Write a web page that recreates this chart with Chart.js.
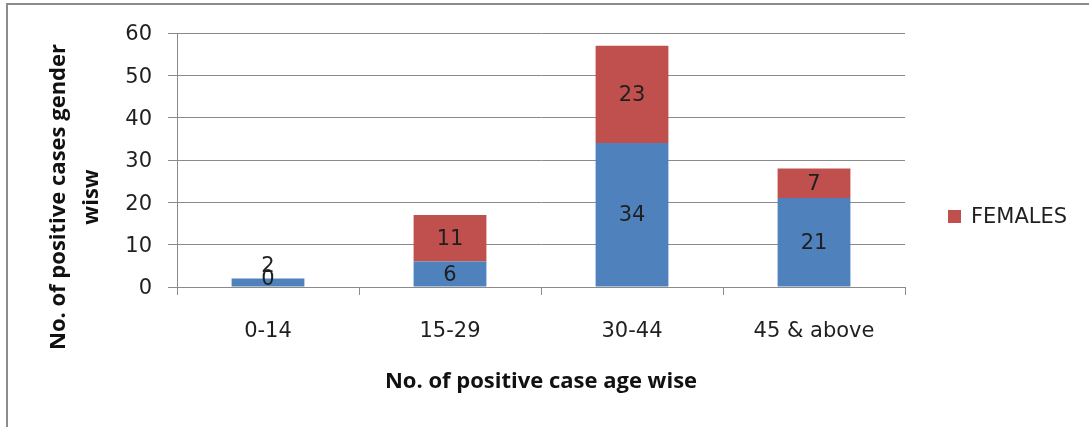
<!DOCTYPE html>
<html>
<head>
<meta charset="utf-8">
<script src="https://cdn.jsdelivr.net/npm/chart.js@4"></script>
<style>
  html, body { margin: 0; padding: 0; background: #ffffff; }
  #wrap { width: 1089px; height: 427px; }
</style>
</head>
<body>
<div id="wrap"><canvas id="chart" width="1089" height="427"></canvas></div>
<script>
// Age groups on the x axis
const categories = ['0-14', '15-29', '30-44', '45 & above'];
// Positive cases per age group, stacked by gender
const males = [2, 6, 34, 21];
const females = [0, 11, 23, 7];
// Value axis ticks
const yTicks = [0, 10, 20, 30, 40, 50, 60];
// Axis titles
const xTitle = 'No. of positive case age wise';
const yTitle = ['No. of positive cases gender', 'wisw'];

const BLUE = '#4f81bd';
const RED = '#c0504d';
const GRID = '#8a8a8a';
const TEXT = '#1f1f1f';
const TICK_FONT = { family: '"DejaVu Sans", sans-serif', size: 21 };
const TITLE_FONT = { family: '"Open Sans", sans-serif', size: 22, weight: 'bold' };

// White page with the grey frame around the chart
const framePlugin = {
  id: 'frame',
  beforeDraw(chart) {
    const ctx = chart.ctx;
    ctx.save();
    ctx.fillStyle = '#ffffff';
    ctx.fillRect(0, 0, chart.width, chart.height);
    ctx.strokeStyle = '#8c8c8c';
    ctx.lineWidth = 2;
    ctx.strokeRect(7, 4, chart.width + 20, chart.height + 20);
    ctx.restore();
  }
};

// Numbers written on each stacked segment
const valueLabels = {
  id: 'valueLabels',
  afterDatasetsDraw(chart) {
    const ctx = chart.ctx;
    ctx.save();
    ctx.font = `${TICK_FONT.size}px ${TICK_FONT.family}`;
    ctx.fillStyle = TEXT;
    ctx.textAlign = 'center';
    ctx.textBaseline = 'middle';
    const metas = chart.data.datasets.map((d, i) => chart.getDatasetMeta(i));
    chart.data.labels.forEach((lab, idx) => {
      const stackTop = Math.min(...metas.map(m => m.data[idx].y));
      metas.forEach((meta, di) => {
        const el = meta.data[idx];
        const v = chart.data.datasets[di].data[idx];
        const h = Math.abs(el.base - el.y);
        let y = (el.y + el.base) / 2 + 1;
        // a segment too thin to hold its number gets it lifted above the stack
        if (v > 0 && h < 14) y = stackTop - 12;
        ctx.fillText(String(v), el.x, y);
      });
    });
    ctx.restore();
  }
};

// Two-line value axis title, set a little below the middle of the plot
const yTitlePlugin = {
  id: 'yTitle',
  afterDraw(chart) {
    const ctx = chart.ctx;
    ctx.save();
    ctx.font = `${TITLE_FONT.weight} ${TITLE_FONT.size}px ${TITLE_FONT.family}`;
    ctx.fillStyle = '#111111';
    ctx.textAlign = 'center';
    ctx.textBaseline = 'alphabetic';
    ctx.translate(0, 197);
    ctx.rotate(-Math.PI / 2);
    yTitle.forEach((line, i) => ctx.fillText(line, 0, 65 + i * 33));
    ctx.restore();
  }
};

// Legend entry for the female series, to the right of the plot
const sideLegend = {
  id: 'sideLegend',
  afterDraw(chart) {
    const ds = chart.data.datasets[1];
    const ctx = chart.ctx;
    ctx.save();
    ctx.fillStyle = ds.backgroundColor;
    ctx.fillRect(948, 210, 13, 13);
    ctx.font = `${TICK_FONT.size}px ${TICK_FONT.family}`;
    ctx.fillStyle = TEXT;
    ctx.textAlign = 'left';
    ctx.textBaseline = 'middle';
    ctx.fillText(ds.label, 971, 218);
    ctx.restore();
  }
};

new Chart(document.getElementById('chart'), {
  type: 'bar',
  data: {
    labels: categories,
    datasets: [
      { label: 'MALES', data: males, backgroundColor: BLUE, borderWidth: 0,
        barPercentage: 0.4, categoryPercentage: 1.0 },
      { label: 'FEMALES', data: females, backgroundColor: RED, borderWidth: 0,
        barPercentage: 0.4, categoryPercentage: 1.0 }
    ]
  },
  options: {
    responsive: false,
    animation: false,
    devicePixelRatio: 1,
    layout: { padding: { top: 33, right: 184, bottom: 0, left: 0 } },
    plugins: {
      legend: { display: false },
      tooltip: { enabled: false }
    },
    scales: {
      x: {
        stacked: true,
        offset: true,
        grid: { display: true, drawOnChartArea: false, drawTicks: true, tickLength: 8,
                color: GRID, offset: true },
        border: { display: true, color: GRID, width: 1 },
        ticks: { color: TEXT, font: TICK_FONT, padding: 24, maxRotation: 0 },
        title: { display: true, text: xTitle, color: '#111111',
                 font: Object.assign({ lineHeight: 1.2 }, TITLE_FONT),
                 padding: { top: 0, bottom: 32 } },
        afterFit(scale) { scale.height = 140; }
      },
      y: {
        stacked: true,
        min: yTicks[0],
        max: yTicks[yTicks.length - 1],
        afterBuildTicks(scale) { scale.ticks = yTicks.map(v => ({ value: v })); },
        grid: { color: GRID, tickLength: 9, lineWidth: 1 },
        border: { display: true, color: GRID, width: 1 },
        ticks: { color: TEXT, font: TICK_FONT, padding: 16, labelOffset: 2 },
        title: { display: false },
        afterFit(scale) { scale.width = 177; }
      }
    }
  },
  plugins: [framePlugin, valueLabels, yTitlePlugin, sideLegend]
});
</script>
</body>
</html>
